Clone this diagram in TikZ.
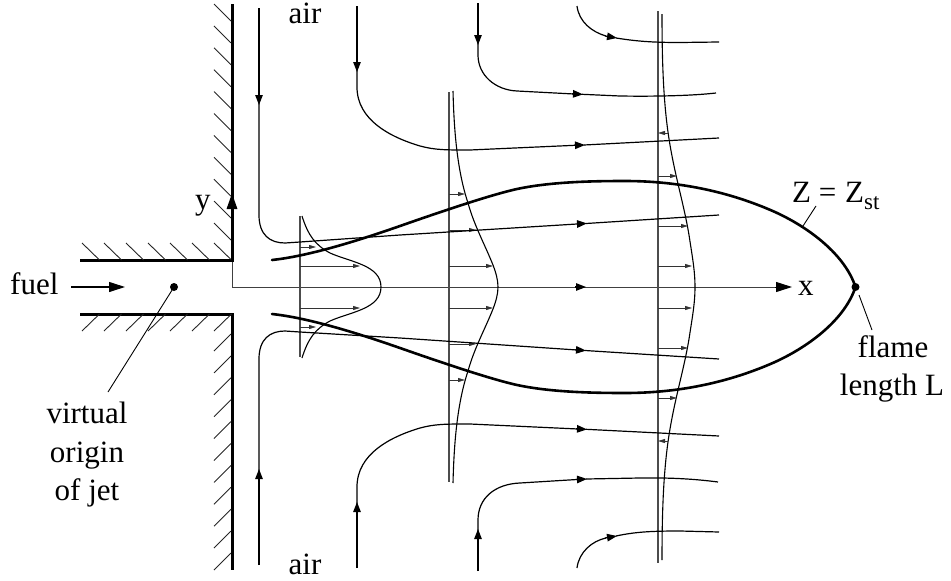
\documentclass[tikz,border=0pt]{standalone}
\usepackage{fontspec}
\setmainfont{Liberation Serif}
\usetikzlibrary{arrows.meta}
\tikzset{
  wall/.style={line width=3pt,black},
  hatch/.style={line width=0.9pt,black!85},
  flame/.style={line width=2.6pt,black,line join=round},
  thin axis/.style={line width=0.9pt,black!75},
  profile/.style={line width=1.1pt,black},
  stemline/.style={line width=1.1pt,black!70},
  flow/.style={line width=1.2pt,black},
  flowhead/.style={flow,-{Triangle[length=10pt,width=7.5pt]}},
  bighead/.style={-{Triangle[length=16pt,width=10pt]}},
  smallhead/.style={line width=0.8pt,black!80,-{Triangle[length=7pt,width=4pt]}},
  leader/.style={line width=0.9pt,black},
  lbl/.style={inner sep=0pt,font=\fontsize{31}{36}\selectfont,anchor=base},
  dotmark/.style={circle,fill=black,inner sep=0pt,minimum size=8pt}
}
\begin{document}
\begin{tikzpicture}[x=1pt,y=-1pt]
\useasboundingbox (0,0) rectangle (951,581);
% walls
\draw[wall,line cap=butt] (80,260) -- (232,260) -- (232,4);
\draw[wall,line cap=butt] (80,314) -- (232,314) -- (232,570);
% hatching
\foreach \x in {82,104,126,148,170,192,214} {
  \draw[hatch] (\x,243) -- (\x+17.5,260);
  \draw[hatch] (\x,331) -- (\x+17.5,314);
}
\foreach \k in {0,...,10} {
  \draw[hatch] (214,21+21.9*\k-17) -- (231,21+21.9*\k);
  \draw[hatch] (214,553-21.9*\k+17) -- (231,553-21.9*\k);
}
% axes
\coordinate (O) at (232,287);
\coordinate (xtip) at (792,287);
\coordinate (ytip) at (232,193);
\draw[thin axis] (232,260) -- (O);
\draw[thin axis] (O) -- (775,287);
\draw[line width=1pt,black,bighead] (775,287) -- (xtip);
\draw[wall,line cap=butt,bighead] (232,262) -- (ytip);
\draw[flowhead] (575,287) -- (586,287);
% fuel arrow
\draw[line width=1.1pt,bighead] (71,287) -- (125,287);
% virtual origin
\node[dotmark] (origin) at (174,287) {};
\coordinate (originleader) at (108,392);
\draw[leader] (origin.center) -- (originleader);
% stems
\draw[stemline] (300,216) -- (300,357);
\draw[stemline] (449,92) -- (449,482);
\draw[stemline] (658,11) -- (658,563);
% mirrored parts: profiles and flame
\foreach \m in {1,-1} {
\begin{scope}[shift={(0,287)},yscale=\m,shift={(0,-287)}]
  \draw[profile] (302,216) .. controls (308,235) and (315,245) .. (330,253) .. controls (350,262) and (381,265) .. (381,287);
  \draw[profile] (453,91) .. controls (454,130) and (457,170) .. (468,203) .. controls (474,225) and (485,245) .. (493,265) .. controls (496,273) and (498,280) .. (498,287);
  \draw[profile] (662,14) .. controls (662,70) and (664,110) .. (670,145) .. controls (676,180) and (684,205) .. (689,235) .. controls (692,255) and (695,270) .. (695,287);
  \draw[flame,line cap=round] (272,260) .. controls (300,257) and (340,247) .. (400,226) .. controls (440,212) and (490,195) .. (517,189) .. controls (550,182) and (590,181) .. (625,181) .. controls (680,181) and (730,192) .. (775,212) .. controls (810,228) and (845,255) .. (855.5,287);
  \foreach \y/\e in {247/316,266/360} \draw[smallhead] (300,\y) -- (\e,\y);
  \foreach \y/\e in {194/465,230/476,266/493} \draw[smallhead] (449,\y) -- (\e,\y);
  \foreach \y/\e in {176/677,226/688,266/692} \draw[smallhead] (658,\y) -- (\e,\y);
  \draw[smallhead] (668,133) -- (658,133);
\end{scope}
}
\node[dotmark] (tipdot) at (855.5,287) {};
% streamlines top
\draw[flowhead] (259,8) -- (259,105);
\draw[flow] (259,100) -- (259,215) .. controls (259,235) and (270,243) .. (285,243) -- (300,242) -- (400,235) -- (577,224);
\draw[flowhead] (577,224) -- (587,223.4);
\draw[flow] (586,223.5) -- (719,215);
\draw[flowhead] (357,6) -- (357,72);
\draw[flow] (357,70) -- (357,87) .. controls (357,120) and (390,137) .. (420,146) .. controls (435,150) and (445,150) .. (470,150) -- (575,145.3);
\draw[flowhead] (574,145.3) -- (585,145);
\draw[flow] (584,145) -- (719,138);
\draw[flowhead] (478,3) -- (478,45);
\draw[flow] (478,43) -- (478,55) .. controls (478,75) and (495,90) .. (517,91) -- (574,94);
\draw[flowhead] (572,93.8) -- (583,94.4);
\draw[flow] (582,94.3) -- (620,96) .. controls (650,96.5) and (690,96) .. (716,93);
\draw[flow] (577,6) .. controls (579,22) and (592,32) .. (606,36);
\draw[flowhead] (605,36) -- (617,38);
\draw[flow] (616,38) .. controls (635,41) and (650,42.5) .. (680,42.5) -- (719,42);
% streamlines bottom
\draw[flowhead] (259,565) -- (259,469);
\draw[flow] (259,474) -- (259,359) .. controls (259,339) and (270,331) .. (285,331) -- (300,332) -- (400,338) -- (577,350);
\draw[flowhead] (575,349.8) -- (586,350.6);
\draw[flow] (585,350.5) -- (719,359);
\draw[flowhead] (357,568) -- (357,502);
\draw[flow] (357,504) -- (357,487) .. controls (357,454) and (390,437) .. (420,428) .. controls (435,424) and (445,424) .. (470,424) -- (578,429);
\draw[flowhead] (576,428.8) -- (587,429.4);
\draw[flow] (586,429.3) -- (719,436);
\draw[flowhead] (478,571) -- (478,529);
\draw[flow] (478,531) -- (478,520) .. controls (478,498) and (495,484) .. (520,483) -- (577,479.5);
\draw[flowhead] (576,479.5) -- (587,479);
\draw[flow] (586,479) -- (640,478) .. controls (670,477.5) and (695,479) .. (718,482);
\draw[flow] (577,568) .. controls (579,552) and (592,541) .. (606,538);
\draw[flowhead] (605,538) -- (617,536);
\draw[flow] (616,536) .. controls (635,532) and (650,531) .. (680,531) -- (719,532);
% labels
\node[lbl,anchor=base west] (fuel) at (10,294) {fuel};
\node[lbl] (virtual) at (87,423) {virtual};
\node[lbl] (originl) at (87,462) {origin};
\node[lbl] (ofjet) at (87,500) {of jet};
\node[lbl,anchor=base west] (ylab) at (195,209) {y};
\node[lbl] (airtop) at (305,23) {air};
\node[lbl] (airbot) at (305,574) {air};
\node[lbl,anchor=base west] (xlab) at (798,295) {x};
\node[lbl,anchor=base west] (zlab) at (792,202) {Z\ =\ \kern1pt Z\raisebox{-7pt}{\fontsize{23}{24}\selectfont st}};
\node[lbl] (flamelab) at (893,357) {flame};
\node[lbl] (lengthlab) at (892,395) {length L};
\coordinate (zfoot) at (803,226);
\coordinate (ztop) at (816,206);
\draw[leader] (ztop) -- (zfoot);
\coordinate (lfoot) at (872,330);
\coordinate (ltop) at (859,295);
\draw[leader] (ltop) -- (lfoot);
\end{tikzpicture}
\end{document}
